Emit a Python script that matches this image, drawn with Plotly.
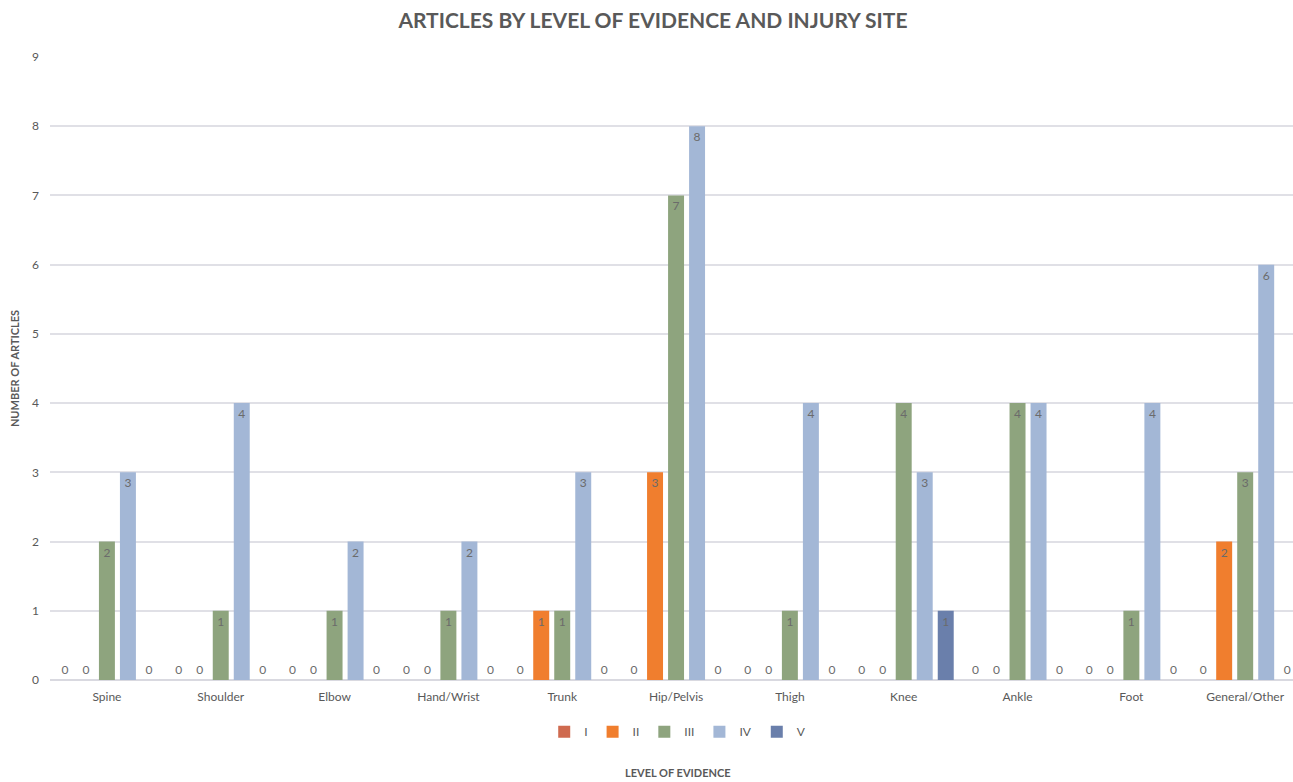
import plotly.graph_objects as go

categories = ["Spine", "Shoulder", "Elbow", "Hand/Wrist", "Trunk", "Hip/Pelvis",
              "Thigh", "Knee", "Ankle", "Foot", "General/Other"]
level_I = [0, 0, 0, 0, 0, 0, 0, 0, 0, 0, 0]
level_II = [0, 0, 0, 0, 1, 3, 0, 0, 0, 0, 2]
level_III = [2, 1, 1, 1, 1, 7, 1, 4, 4, 1, 3]
level_IV = [3, 4, 2, 2, 3, 8, 4, 3, 4, 4, 6]
level_V = [0, 0, 0, 0, 0, 0, 0, 1, 0, 0, 0]

series = [
    ("I", level_I, "#cf6a4f"),
    ("II", level_II, "#f07e2e"),
    ("III", level_III, "#8ea47e"),
    ("IV", level_IV, "#a3b7d6"),
    ("V", level_V, "#6a7fab"),
]

FONT = "Lato, 'Open Sans', sans-serif"
GREY = "#595959"

fig = go.Figure()
for name, vals, color in series:
    fig.add_trace(go.Bar(
        name=name, x=categories, y=vals,
        marker=dict(color=color, line=dict(width=0)),
        text=[str(v) for v in vals],
        textposition=["outside" if v == 0 else "inside" for v in vals],
        insidetextanchor="end",
        textangle=0,
        cliponaxis=False,
        textfont=dict(family=FONT, size=12, color="#6b6b6b"),
    ))

fig.update_layout(
    width=1293, height=782,
    margin=dict(l=50, r=0, t=57, b=102),
    paper_bgcolor="white", plot_bgcolor="white",
    barmode="group", bargap=0.077, bargroupgap=0.24,
    title=dict(text="<b>ARTICLES BY LEVEL OF EVIDENCE AND INJURY SITE</b>",
               x=0.505, xanchor="center", y=0.973, yanchor="middle",
               font=dict(family=FONT, size=21, color=GREY)),
    font=dict(family=FONT, color=GREY),
    uniformtext=dict(minsize=8, mode="show"),
    legend=dict(orientation="h", x=0.505, xanchor="center", y=-0.083, yanchor="middle",
                font=dict(family=FONT, size=12, color=GREY),
                itemwidth=30, tracegroupgap=0, traceorder="normal"),
    showlegend=True,
    xaxis=dict(range=[-0.5, 10.42], showgrid=False, zeroline=False,
               showline=False, ticks="", ticklabelstandoff=8,
               tickfont=dict(family=FONT, size=12, color=GREY)),
    yaxis=dict(range=[0, 9], dtick=1, showgrid=True, gridcolor="#e0e0e6", gridwidth=1.5,
               zeroline=True, zerolinecolor="#d9d9e0", zerolinewidth=2,
               showline=False, ticks="", ticklabelstandoff=10,
               tickfont=dict(family=FONT, size=12, color=GREY),
               title=dict(text="<b>NUMBER OF ARTICLES</b>", standoff=10,
                          font=dict(family=FONT, size=11, color=GREY))),
    annotations=[dict(text="<b>LEVEL OF EVIDENCE</b>", xref="paper", yref="paper",
                      x=0.505, y=-0.149, xanchor="center", yanchor="middle",
                      showarrow=False, font=dict(family=FONT, size=11, color=GREY))],
)

fig.write_html("out.html")
